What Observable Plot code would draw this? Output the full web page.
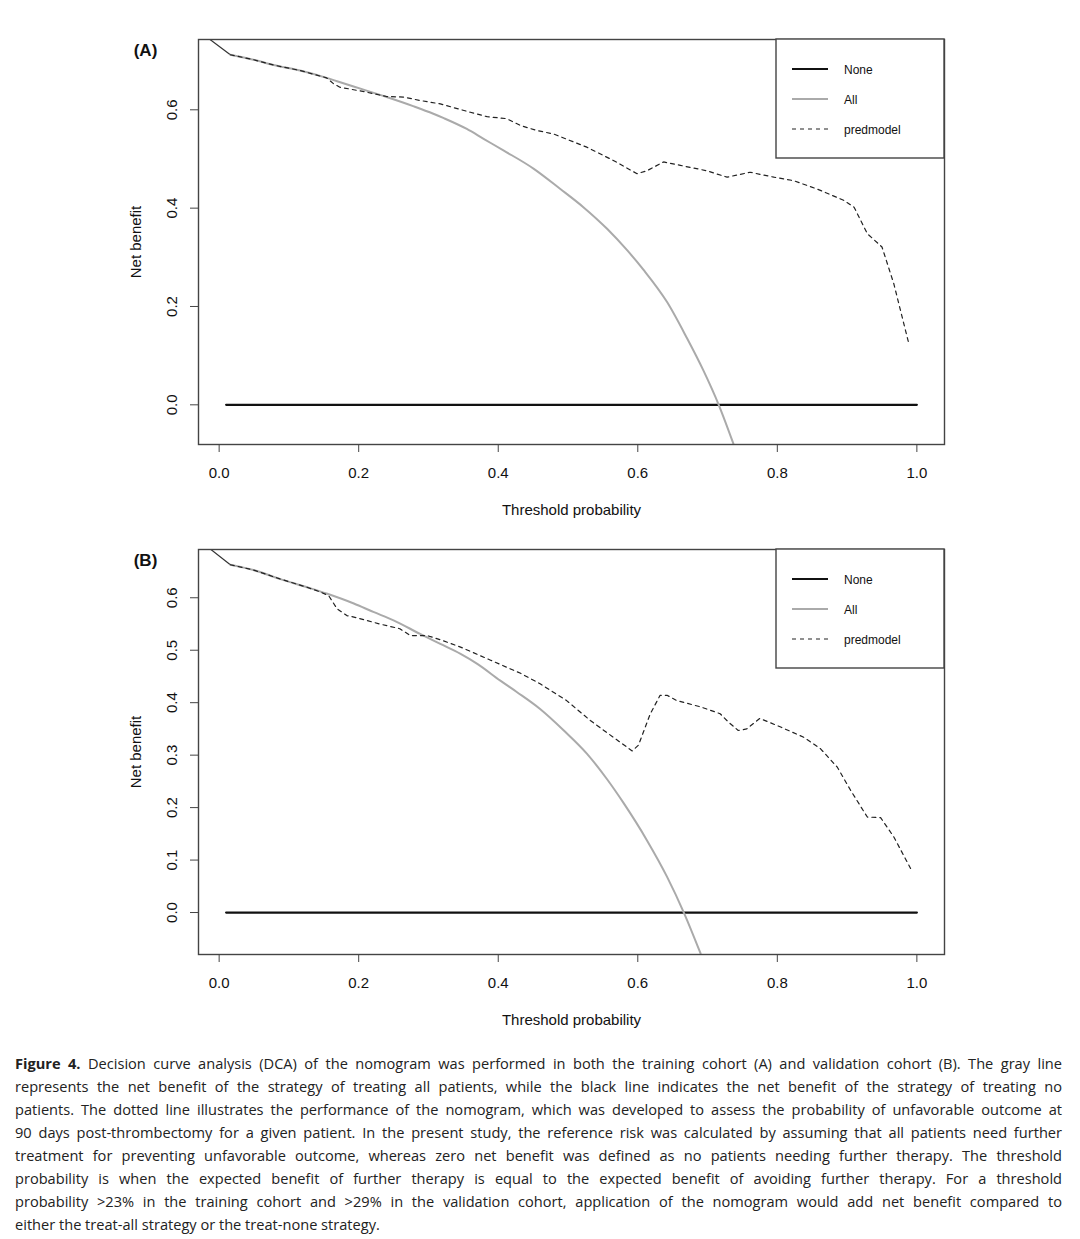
<!DOCTYPE html>
<html>
<head>
<meta charset="utf-8">
<script src="https://cdn.jsdelivr.net/npm/d3@7"></script>
<script src="https://cdn.jsdelivr.net/npm/@observablehq/plot@0.6"></script>
<style>
  html, body { margin: 0; padding: 0; background: #fff; }
  body { width: 1080px; }
  .panel { position: relative; width: 1080px; }
  .panel svg.legend { position: absolute; left: 0; top: 0; }
  #caption { padding: 22px 18px 0 15px; font-family: "Open Sans", "Noto Sans", sans-serif; font-size: 14.6px; color: #222; }
  #caption div { height: 23px; line-height: 23px; text-align: justify; text-align-last: justify; white-space: nowrap; }
  #caption div.last { text-align-last: left; }
</style>
</head>
<body>
<div id="chart"></div>
<div id="caption"></div>
<script>
// ---------------- DATA ----------------
const xTicks = [0, 0.2, 0.4, 0.6, 0.8, 1.0];
const yTicksA = [0, 0.2, 0.4, 0.6];
const yTicksB = [0, 0.1, 0.2, 0.3, 0.4, 0.5, 0.6];
const seriesNames = ["None", "All", "predmodel"];

// Panel A (training cohort)
const noneA = [[0.01, 0], [1.0, 0]];
const startA = [[-0.03, 0.761], [0.016, 0.712]];
const allA = [
  [0.016, 0.712], [0.049, 0.702], [0.078, 0.691], [0.116, 0.680], [0.154, 0.665],
  [0.169, 0.658], [0.207, 0.641], [0.240, 0.626], [0.279, 0.607], [0.307, 0.592],
  [0.322, 0.583], [0.355, 0.561], [0.379, 0.541], [0.408, 0.517], [0.451, 0.480],
  [0.489, 0.439], [0.522, 0.402], [0.556, 0.358], [0.585, 0.314], [0.608, 0.275],
  [0.642, 0.209], [0.670, 0.137], [0.694, 0.070], [0.716, 0.000], [0.737, -0.079]
];
const modelA = [
  [0.016, 0.712], [0.049, 0.702], [0.078, 0.691], [0.116, 0.680], [0.154, 0.665],
  [0.164, 0.653], [0.173, 0.646], [0.211, 0.636], [0.240, 0.627], [0.264, 0.626],
  [0.288, 0.619], [0.317, 0.612], [0.360, 0.595], [0.384, 0.586], [0.412, 0.582],
  [0.432, 0.568], [0.455, 0.558], [0.479, 0.551], [0.527, 0.524], [0.565, 0.497],
  [0.599, 0.470], [0.613, 0.476], [0.637, 0.494], [0.661, 0.487], [0.699, 0.476],
  [0.728, 0.463], [0.761, 0.473], [0.795, 0.463], [0.823, 0.456], [0.857, 0.439],
  [0.895, 0.416], [0.910, 0.402], [0.929, 0.348], [0.950, 0.321], [0.967, 0.246],
  [0.988, 0.127]
];

// Panel B (validation cohort)
const noneB = [[0.01, 0], [1.0, 0]];
const startB = [[-0.03, 0.711], [0.016, 0.663]];
const allB = [
  [0.016, 0.663], [0.049, 0.653], [0.087, 0.636], [0.126, 0.620], [0.154, 0.608],
  [0.193, 0.589], [0.221, 0.573], [0.250, 0.557], [0.288, 0.531], [0.317, 0.512],
  [0.346, 0.493], [0.370, 0.474], [0.403, 0.442], [0.427, 0.420], [0.460, 0.388],
  [0.494, 0.347], [0.527, 0.303], [0.556, 0.254], [0.580, 0.208], [0.613, 0.138],
  [0.642, 0.068], [0.666, 0.000], [0.690, -0.078]
];
const modelB = [
  [0.016, 0.663], [0.049, 0.653], [0.087, 0.636], [0.126, 0.620], [0.145, 0.611],
  [0.157, 0.604], [0.169, 0.579], [0.183, 0.566], [0.197, 0.562], [0.230, 0.550],
  [0.259, 0.541], [0.274, 0.528], [0.298, 0.528], [0.317, 0.520], [0.346, 0.506],
  [0.389, 0.481], [0.432, 0.456], [0.460, 0.436], [0.498, 0.404], [0.532, 0.366],
  [0.565, 0.334], [0.592, 0.308], [0.601, 0.319], [0.618, 0.379],
  [0.632, 0.414], [0.642, 0.414], [0.656, 0.404], [0.690, 0.392], [0.718, 0.379],
  [0.730, 0.363], [0.744, 0.347], [0.756, 0.350], [0.775, 0.370], [0.804, 0.354],
  [0.838, 0.334], [0.862, 0.312], [0.886, 0.277], [0.905, 0.233], [0.929, 0.182],
  [0.948, 0.181], [0.967, 0.144], [0.991, 0.084]
];

const captionLines = [
  "<b>Figure 4.</b> Decision curve analysis (DCA) of the nomogram was performed in both the training cohort (A) and validation cohort (B). The gray line",
  "represents the net benefit of the strategy of treating all patients, while the black line indicates the net benefit of the strategy of treating no",
  "patients. The dotted line illustrates the performance of the nomogram, which was developed to assess the probability of unfavorable outcome at",
  "90 days post-thrombectomy for a given patient. In the present study, the reference risk was calculated by assuming that all patients need further",
  "treatment for preventing unfavorable outcome, whereas zero net benefit was defined as no patients needing further therapy. The threshold",
  "probability is when the expected benefit of further therapy is equal to the expected benefit of avoiding further therapy. For a threshold",
  "probability &gt;23% in the training cohort and &gt;29% in the validation cohort, application of the nomogram would add net benefit compared to",
  "either the treat-all strategy or the treat-none strategy."
];

// ---------------- DRAW ----------------
const FONT = "Liberation Sans, Arial, Helvetica, sans-serif";
const FRAME = "#444";

function panel(tag, top, height, yDomain, yTicks, none, start, all, model) {
  const plot = Plot.plot({
    width: 1080,
    height: height,
    marginLeft: 198,
    marginRight: 136,
    marginTop: top,
    marginBottom: height - top - 405,
    style: {fontFamily: FONT, fontSize: "15px", color: "#111", background: "transparent", overflow: "visible"},
    x: {domain: [-0.0296, 1.0396]},
    y: {domain: yDomain},
    marks: [
      Plot.line(none, {x: d => d[0], y: d => d[1], stroke: "#111", strokeWidth: 2.2, clip: true}),
      Plot.line(start, {x: d => d[0], y: d => d[1], stroke: "#333", strokeWidth: 1.2, clip: true}),
      Plot.line(all, {x: d => d[0], y: d => d[1], stroke: "#aaa", strokeWidth: 2, curve: "monotone-x", clip: true}),
      Plot.line(model, {x: d => d[0], y: d => d[1], stroke: "#222", strokeWidth: 1.2, strokeDasharray: "4,4", clip: true}),
      Plot.frame({stroke: FRAME, strokeWidth: 1.4}),
      Plot.axisX({ticks: xTicks, tickSize: 8, tickPadding: 15, tickFormat: d3.format(".1f"),
        stroke: FRAME, fontSize: 15, fontFamily: FONT, label: null}),
      Plot.axisY({ticks: yTicks, tickSize: 8, tickFormat: () => "", stroke: FRAME, label: null}),
      Plot.text(yTicks, {y: d => d, frameAnchor: "left", dx: -26, rotate: -90,
        textAnchor: "middle", lineAnchor: "middle",
        text: d => d3.format(".1f")(d), fontSize: 15, fontFamily: FONT, fill: "#111"}),
      Plot.text(["Net benefit"], {frameAnchor: "left", dx: -62, rotate: -90, textAnchor: "middle",
        lineAnchor: "middle", fontSize: 15, fontFamily: FONT, fill: "#111"}),
      Plot.text(["Threshold probability"], {frameAnchor: "bottom", dy: 66, textAnchor: "middle",
        lineAnchor: "middle", fontSize: 15, fontFamily: FONT, fill: "#111"}),
      Plot.text([tag], {frameAnchor: "top-left", dx: -53, dy: 11, textAnchor: "middle",
        lineAnchor: "middle", fontSize: 17, fontFamily: FONT, fontWeight: "bold", fill: "#111"})
    ]
  });
  const wrap = document.createElement("div");
  wrap.className = "panel";
  wrap.style.height = height + "px";
  wrap.appendChild(plot);

  // legend (R-style box in top-right corner)
  const lg = d3.create("svg").attr("class", "legend").attr("width", 1080).attr("height", height)
    .style("font-family", FONT);
  lg.append("rect").attr("x", 776).attr("y", top).attr("width", 168).attr("height", 119)
    .attr("fill", "#fff").attr("stroke", FRAME).attr("stroke-width", 1.4);
  const styles = [
    {stroke: "#111", w: 2.2, dash: null},
    {stroke: "#aaa", w: 2, dash: null},
    {stroke: "#222", w: 1.2, dash: "4,4"}
  ];
  seriesNames.forEach((name, i) => {
    const y = top + 30 + i * 30;
    lg.append("line").attr("x1", 792).attr("x2", 828).attr("y1", y).attr("y2", y)
      .attr("stroke", styles[i].stroke).attr("stroke-width", styles[i].w)
      .attr("stroke-dasharray", styles[i].dash);
    lg.append("text").attr("x", 844).attr("y", y + 4.5).attr("font-size", 12)
      .attr("fill", "#111").text(name);
  });
  wrap.appendChild(lg.node());
  return wrap;
}

const chart = document.getElementById("chart");
chart.appendChild(panel("(A)", 39, 520, [-0.0807, 0.743], yTicksA, noneA, startA, allA, modelA));
chart.appendChild(panel("(B)", 29, 510, [-0.0800, 0.692], yTicksB, noneB, startB, allB, modelB));

const cap = document.getElementById("caption");
captionLines.forEach((t, i) => {
  const d = document.createElement("div");
  if (i === captionLines.length - 1) d.className = "last";
  d.innerHTML = t;
  cap.appendChild(d);
});
</script>
</body>
</html>
